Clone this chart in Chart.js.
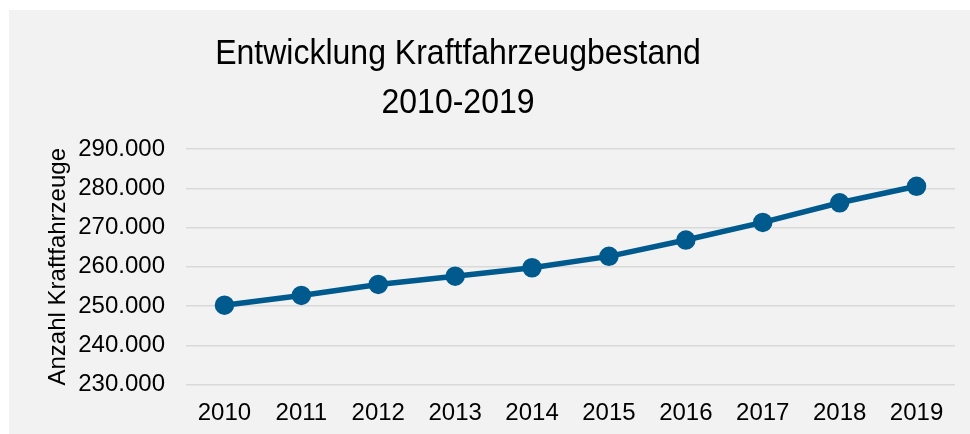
<!DOCTYPE html>
<html>
<head>
<meta charset="utf-8">
<script src="https://cdn.jsdelivr.net/npm/chart.js@4"></script>
<style>
  html, body { margin: 0; padding: 0; background: #ffffff; }
  #wrap { position: absolute; left: 9px; top: 10px; width: 961px; height: 424px; background: #f2f2f2; }
  #title { position: absolute; left: -9px; top: 22px; width: 916px; text-align: center;
           font: 32px Arial, "Liberation Sans", sans-serif; line-height: 44px; color: #000;
           transform: scaleY(1.12); transform-origin: 50% 40px; }
  canvas { position: absolute; left: 0; top: 0; }
</style>
</head>
<body>
<div id="wrap">
  <canvas id="chartBestand" width="961" height="424"></canvas>
  <div id="title">Entwicklung Kraftfahrzeugbestand<br>2010-2019</div>
</div>
<script>
var jahre = ['2010', '2011', '2012', '2013', '2014', '2015', '2016', '2017', '2018', '2019'];
var bestand = [250200, 252700, 255500, 257600, 259750, 262650, 266800, 271300, 276300, 280500];
var yMin = 230000, yMax = 290000, yStep = 10000;
var yTitel = 'Anzahl Kraftfahrzeuge';

function formatZahl(v) {
  return String(Math.round(v)).replace(/\B(?=(\d{3})+(?!\d))/g, '.');
}

var font = { family: 'Arial, "Liberation Sans", sans-serif', size: 24 };

var ctx = document.getElementById('chartBestand').getContext('2d');
var chartBestand = new Chart(ctx, {
  type: 'line',
  data: {
    labels: jahre,
    datasets: [{
      data: bestand,
      borderColor: '#005a8e',
      backgroundColor: '#005a8e',
      borderWidth: 5.5,
      pointRadius: 7,
      pointHoverRadius: 7,
      tension: 0
    }]
  },
  options: {
    responsive: false,
    animation: false,
    events: [],
    layout: { padding: { top: 139, right: 15, bottom: 0, left: 0 } },
    plugins: { legend: { display: false }, tooltip: { enabled: false }, title: { display: false } },
    scales: {
      x: {
        offset: true,
        grid: { display: false, drawTicks: false },
        border: { display: false },
        ticks: { color: '#000', font: font, padding: 14, maxRotation: 0 },
        afterFit: function(scale) { scale.height = 49.5; }
      },
      y: {
        min: yMin, max: yMax,
        grid: { color: '#d9d9d9', lineWidth: 1.5, drawTicks: false },
        border: { display: false },
        ticks: { stepSize: yStep, color: '#000', font: font, padding: 21,
                 callback: function(v) { return formatZahl(v); } },
        title: { display: true, text: yTitel, color: '#000', font: font, padding: { top: 35, bottom: 0 } },
        afterFit: function(scale) { scale.width = 177; }
      }
    }
  }
});
</script>
</body>
</html>
